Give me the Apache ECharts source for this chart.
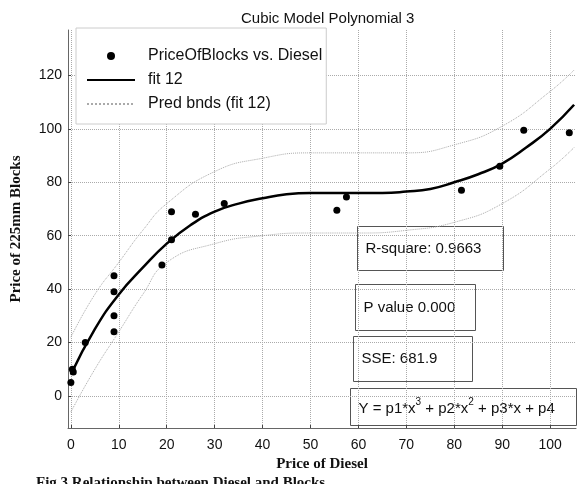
<!DOCTYPE html>
<html>
<head>
<meta charset="utf-8">
<script src="https://cdn.jsdelivr.net/npm/echarts@6/dist/echarts.min.js"></script>
<style>
  html, body { margin: 0; padding: 0; background: #fff; }
  #main { width: 579px; height: 484px; }
</style>
</head>
<body>
<div id="main"></div>
<script>
// observed points (diesel price, block price)
var dieselX = [0, 0.5, 0.3, 3, 9, 9, 9, 9, 19, 21, 21, 26, 32, 55.5, 57.5, 81.5, 89.5, 94.5, 104];
var blocksY = [5, 9, 10, 20, 45, 39, 30, 24, 49, 69, 58.5, 68, 72, 69.5, 74.5, 77, 86, 99.5, 98.5];

// fitted cubic
var fitX = [0, 5, 10, 15, 20, 25, 30, 35, 40, 45, 50, 55, 60, 65, 70, 75, 80, 85, 90, 95, 100, 105];
var fitY = [8, 25, 38, 48, 57, 64, 69, 72, 74, 75.5, 76, 76, 76, 76, 76.5, 77.5, 80, 83, 87, 93, 100, 109];

// prediction bounds
var bndX = [0, 5, 10, 15, 20, 30, 40, 50, 60, 70, 80, 90, 100, 105];
var upperY = [22, 38, 50, 62, 72, 84, 89, 91, 91, 91, 94, 101, 114, 122];
var lowerY = [-6, 10, 24, 38, 50, 57, 60, 61, 61, 62, 65, 72, 85, 93];

var xTicks = [0, 10, 20, 30, 40, 50, 60, 70, 80, 90, 100];
var yTicks = [0, 20, 40, 60, 80, 100, 120];

var stats = ['R-square: 0.9663', 'P value 0.000', 'SSE: 681.9'];

function pairs(xs, ys) {
  return xs.map(function (x, i) { return [x, ys[i]]; });
}

var chart = echarts.init(document.getElementById('main'));

var sans = 'Liberation Sans';
var serif = 'Liberation Serif';

function statBox(left, top, w, h, text) {
  return {
    type: 'group', left: left, top: top,
    children: [
      { type: 'rect', shape: { x: 0, y: 0, width: w, height: h },
        style: { fill: 'rgba(255,255,255,0.85)', stroke: '#555', lineWidth: 1 } },
      { type: 'text', x: 8, y: h / 2,
        style: { text: text, font: '15px ' + sans, fill: '#111', verticalAlign: 'middle' } }
    ]
  };
}

var option = {
  backgroundColor: '#fff',
  animation: false,
  title: {
    text: 'Cubic Model Polynomial 3',
    left: 236, top: 6,
    textStyle: { fontFamily: sans, fontSize: 15, fontWeight: 'normal', color: '#111' }
  },
  grid: { left: 68, right: 3, top: 30, bottom: 56 },
  legend: {
    orient: 'vertical',
    left: 76, top: 28,
    padding: [20, 4, 12, 10],
    itemGap: 8,
    itemWidth: 48, itemHeight: 8,
    backgroundColor: '#fff',
    borderColor: '#ccc', borderWidth: 1,
    textStyle: { fontFamily: sans, fontSize: 16, color: '#111', padding: [0, 0, 0, 8] },
    data: [
      { name: 'PriceOfBlocks vs. Diesel', icon: 'circle', itemStyle: { color: '#000' } },
      { name: 'fit 12', itemStyle: { opacity: 0 } },
      { name: 'Pred bnds (fit 12)', itemStyle: { opacity: 0 } }
    ]
  },
  xAxis: {
    type: 'value', min: -0.6, max: 105.4,
    name: 'Price of Diesel', nameLocation: 'middle', nameGap: 28,
    nameTextStyle: { fontFamily: serif, fontWeight: 'bold', fontSize: 15, color: '#111' },
    axisLine: { onZero: false, lineStyle: { color: '#666' } },
    axisTick: { inside: true, length: 3, customValues: xTicks, lineStyle: { color: '#444' } },
    axisLabel: { customValues: xTicks, fontFamily: sans, fontSize: 14, color: '#111', margin: 10 },
    splitLine: { show: true, lineStyle: { color: '#aaa', type: 'dotted' } }
  },
  yAxis: {
    type: 'value', min: -12, max: 137,
    name: 'Price of 225mm Blocks', nameLocation: 'middle', nameGap: 44,
    nameTextStyle: { fontFamily: serif, fontWeight: 'bold', fontSize: 15, color: '#111' },
    axisLine: { show: true, onZero: false, lineStyle: { color: '#666' } },
    axisTick: { show: true, inside: true, length: 3, customValues: yTicks, lineStyle: { color: '#444' } },
    axisLabel: { customValues: yTicks, fontFamily: sans, fontSize: 14, color: '#111', margin: 6 },
    splitLine: { show: true, lineStyle: { color: '#aaa', type: 'dotted' } }
  },
  series: [
    {
      name: 'Pred bnds (fit 12)', type: 'line', smooth: true, symbol: 'none',
      lineStyle: { color: '#aaa', width: 1, type: 'dotted' }, itemStyle: { color: '#aaa' },
      data: pairs(bndX, upperY), z: 1
    },
    {
      name: 'Pred bnds (fit 12)', type: 'line', smooth: true, symbol: 'none',
      lineStyle: { color: '#aaa', width: 1, type: 'dotted' },
      data: pairs(bndX, lowerY), z: 1
    },
    {
      name: 'fit 12', type: 'line', smooth: true, symbol: 'none',
      lineStyle: { color: '#000', width: 2.5 }, itemStyle: { color: '#000' },
      data: pairs(fitX, fitY), z: 3
    },
    {
      name: 'PriceOfBlocks vs. Diesel', type: 'scatter', symbolSize: 7,
      itemStyle: { color: '#000', opacity: 1 },
      data: pairs(dieselX, blocksY), z: 4
    }
  ],
  graphic: [
    statBox(357, 226, 146, 44, stats[0]),
    statBox(355, 284, 120, 46, stats[1]),
    statBox(353, 336, 119, 45, stats[2]),
    {
      type: 'group', left: 350, top: 388,
      children: [
        { type: 'rect', shape: { x: 0, y: 0, width: 226, height: 37 },
          style: { fill: 'rgba(255,255,255,0.85)', stroke: '#555', lineWidth: 1 } },
        { type: 'text', x: 8, y: 20,
          style: {
            text: 'Y = p1*x{s|3} + p2*x{s|2} + p3*x + p4',
            font: '15px ' + sans, fill: '#111', verticalAlign: 'middle',
            rich: { s: { fontSize: 10, fontFamily: sans, verticalAlign: 'top', padding: [0, 0, 12, 0] } }
          } }
      ]
    },
    {
      type: 'text', left: 36, top: 476,
      style: { text: 'Fig 3 Relationship between Diesel and Blocks', font: 'bold 15px ' + serif, fill: '#111' }
    }
  ]
};

chart.setOption(option);
</script>
</body>
</html>
